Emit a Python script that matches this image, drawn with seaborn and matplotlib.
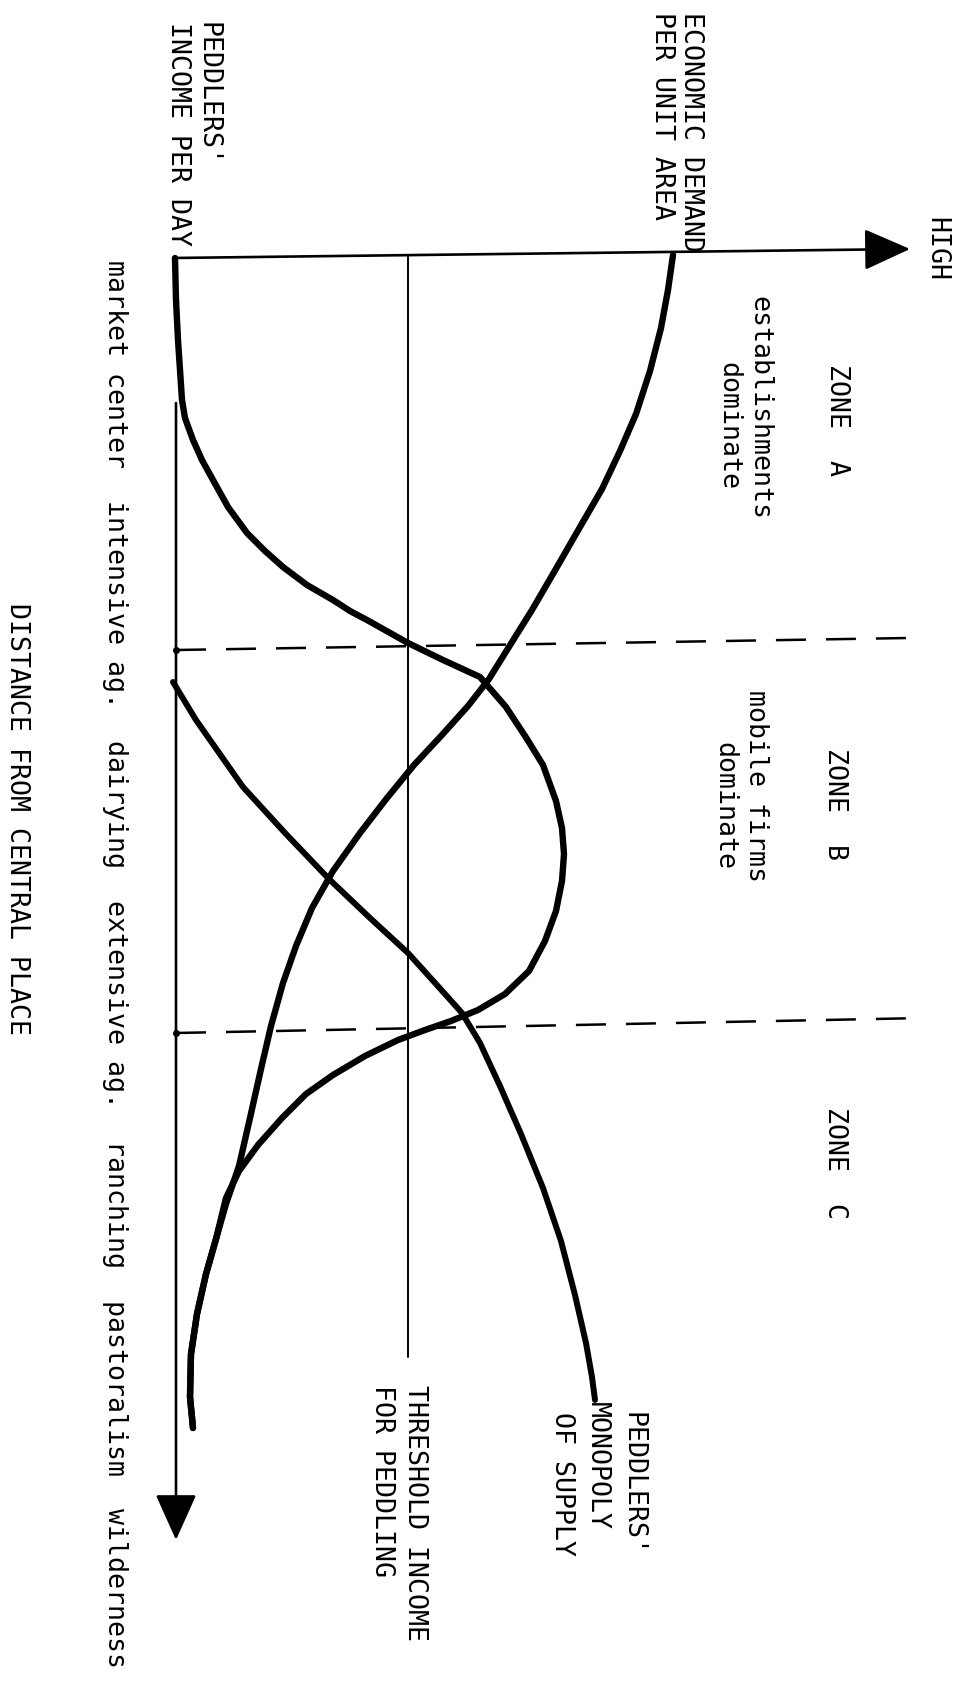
import matplotlib
matplotlib.use("Agg")
import matplotlib.pyplot as plt
import numpy as np
import pandas as pd
import seaborn as sns

# ---------------- data (level = rightwards, distance = downwards) ----------------
income_level = [-0.1, 0.0, 0.2, 0.6, 0.9, 1.7, 2.6, 3.7, 5.2, 7.1, 8.9, 10.7, 13.1, 15.7,
                17.4, 19.1, 23.2, 26.7, 30.4, 33.0, 35.1, 36.7, 38.0, 38.6, 38.8, 38.6,
                38.0, 36.9, 35.3, 32.9, 30.2, 27.5, 24.9, 22.2, 18.9, 15.7, 13.0, 10.6,
                8.2, 6.3, 5.0, 4.0, 3.0, 2.1, 1.5, 1.4, 1.7]
income_dist = [0.4, 4.6, 8.6, 14.6, 16.4, 18.6, 20.6, 22.6, 25.3, 27.9, 29.7, 31.3, 33.1,
               34.6, 35.7, 36.6, 38.9, 40.6, 42.3, 45.3, 48.5, 51.1, 54.7, 57.4, 60.0,
               62.7, 65.7, 68.7, 71.7, 74.0, 75.6, 76.7, 77.6, 78.6, 80.2, 82.1, 84.0,
               86.4, 89.1, 91.7, 94.4, 98.5, 102.0, 106.0, 110.0, 114.3, 117.4]

demand_level = [49.7, 49.2, 48.5, 47.4, 46.0, 44.4, 42.6, 40.4, 38.1, 35.6, 33.1, 31.3,
                29.2, 26.5, 23.8, 21.1, 18.4, 15.7, 13.6, 12.0, 10.7, 9.5, 8.5, 7.4,
                6.3, 5.0, 4.0, 3.0, 2.1, 1.5, 1.4, 1.7]
demand_dist = [0.1, 3.6, 7.4, 11.7, 16.0, 19.7, 23.5, 27.3, 31.3, 35.6, 39.6, 42.5,
               45.2, 48.2, 51.1, 54.4, 57.9, 61.7, 65.4, 69.2, 72.9, 77.2, 81.5, 86.4,
               91.2, 95.0, 98.5, 102.0, 106.0, 110.0, 114.3, 117.4]

monopoly_level = [-0.3, 2.0, 6.7, 11.0, 15.4, 19.4, 23.2, 26.0, 28.6, 30.4, 32.4,
                  34.5, 36.7, 38.5, 39.9, 41.0, 41.6, 41.9]
monopoly_dist = [42.8, 46.6, 53.3, 58.0, 62.6, 66.4, 69.9, 73.0, 75.9, 78.9, 83.2,
                 88.0, 93.4, 98.7, 104.1, 108.9, 112.3, 114.6]

threshold_level = [23.2, 23.2]
threshold_dist = [0.2, 110.3]

level_axis_level = [-0.3, 73.4]
level_axis_dist = [0.4, -0.5]
distance_axis_level = [0.0, 0.0]
distance_axis_dist = [14.9, 128.6]

zone_bound_level = [0.0, 73.2, 0.0, 74.8]
zone_bound_dist = [39.6, 38.4, 77.9, 76.4]

land_use = ["market center", "intensive ag.", "dairying", "extensive ag.",
            "ranching", "pastoralism", "wilderness"]

# (text, level of baseline, distance of start)
labels = [
    ("PEDDLERS'", 2.4, -23.2),
    ("INCOME PER DAY", -0.5, -23.2),
    ("ECONOMIC DEMAND", 50.8, -24.2),
    ("PER UNIT AREA", 47.9, -24.2),
    ("HIGH", 75.3, -3.7),
    ("ZONE  A", 65.4, 11.0),
    ("establishments", 57.6, 4.2),
    ("dominate", 54.5, 10.8),
    ("ZONE  B", 65.2, 49.4),
    ("mobile firms", 57.3, 43.6),
    ("dominate", 54.1, 48.8),
    ("ZONE  C", 65.2, 85.3),
    ("PEDDLERS'", 44.9, 115.8),
    ("MONOPOLY", 41.4, 114.8),
    ("OF SUPPLY", 37.9, 115.8),
    ("THRESHOLD INCOME", 23.2, 113.1),
    ("FOR PEDDLING", 19.9, 113.1),
    ("DISTANCE FROM CENTRAL PLACE", -16.6, 34.9),
    ("  ".join(land_use), -6.8, 0.6),
]

# ---------------- drawing ----------------
sns.set_theme(style="white")
plt.rcParams['font.family'] = ['DejaVu Sans Mono', 'DejaVu Sans']

fig = plt.figure(figsize=(9.63, 16.86), dpi=100)
ax = fig.add_axes([0, 0, 1, 1])
ax.set_facecolor("white")

curve_kw = dict(sort=False, estimator=None, color="black", ax=ax,
                solid_capstyle="round", solid_joinstyle="round")
sns.lineplot(x=income_level, y=income_dist, lw=4.6, **curve_kw)
sns.lineplot(x=demand_level, y=demand_dist, lw=4.6, **curve_kw)
sns.lineplot(x=monopoly_level, y=monopoly_dist, lw=4.3, **curve_kw)

# threshold income line
ax.plot(threshold_level, threshold_dist, color="black", lw=1.4)

# zone boundaries (dashed)
for i in range(0, len(zone_bound_level), 2):
    ax.plot(zone_bound_level[i:i + 2], zone_bound_dist[i:i + 2], color="black",
            lw=1.8, linestyle=(0, (12, 8)))
    ax.plot(zone_bound_level[i], zone_bound_dist[i], marker="o", ms=4, color="black")

# axes with arrow heads
arrow_kw = dict(arrowstyle="-|>,head_length=1.45,head_width=0.65", mutation_scale=20,
                lw=1.9, color="black", shrinkA=0, shrinkB=0)
ax.annotate("", xy=(level_axis_level[1], level_axis_dist[1]),
            xytext=(level_axis_level[0], level_axis_dist[0]), arrowprops=arrow_kw)
ax.annotate("", xy=(distance_axis_level[1], distance_axis_dist[1]),
            xytext=(distance_axis_level[0], distance_axis_dist[0]), arrowprops=arrow_kw)

for text, lev, dist in labels:
    ax.text(lev, dist, text, rotation=270, rotation_mode="anchor", ha="left",
            va="baseline", fontsize=19.2, color="black",
            family=['DejaVu Sans Mono', 'DejaVu Sans'])

ax.set_xlim(-17.6, 78.7)
ax.set_ylim(143.2, -25.4)
ax.axis("off")

fig.savefig("out.png", dpi=100, facecolor="white")
